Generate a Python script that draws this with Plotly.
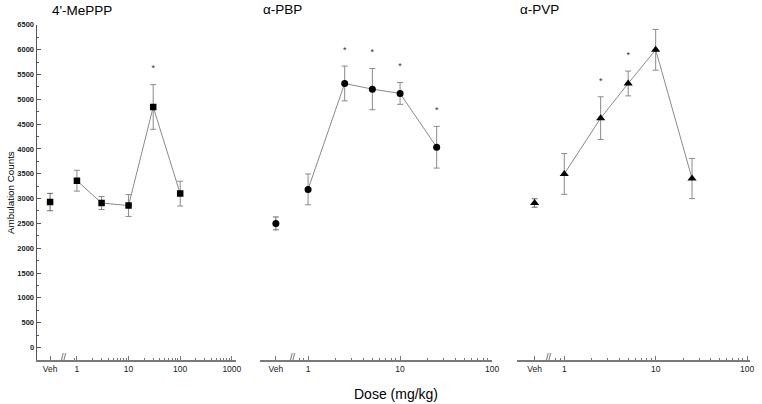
import plotly.graph_objects as go

# ---------------- data ----------------
titles = ["4'-MePPP", "α-PBP", "α-PVP"]

mep_doses = [1, 3, 10, 30, 100]
mep_mean = [3360, 2910, 2860, 4845, 3100]
mep_sem = [210, 130, 220, 450, 250]
mep_veh_mean = [2930]
mep_veh_sem = [175]
mep_sig = [False, False, False, True, False]

pbp_doses = [1, 2.5, 5, 10, 25]
pbp_mean = [3185, 5318, 5204, 5118, 4034]
pbp_sem = [310, 350, 415, 220, 420]
pbp_veh_mean = [2500]
pbp_veh_sem = [130]
pbp_sig = [False, True, True, True, True]

pvp_doses = [1, 2.5, 5, 10, 25]
pvp_mean = [3496, 4620, 5318, 5996, 3404]
pvp_sem = [410, 430, 250, 410, 405]
pvp_veh_mean = [2911]
pvp_veh_sem = [85]
pvp_sig = [False, True, True, True, False]

y_ticks = list(range(0, 7000, 500))

# ---------------- styling ----------------
W, H = 762, 404
FONT = "Arial, Liberation Sans, sans-serif"
GRAY = "#8a8a8a"
AX = "#7a7a7a"

def px(x):
    return x / W

def py(y):
    return 1 - y / H

fig = go.Figure()

panels = [
    dict(doses=mep_doses, mean=mep_mean, sem=mep_sem, vm=mep_veh_mean, vs=mep_veh_sem,
         sig=mep_sig, symbol="square", msize=6.5, veh=10 ** -0.52,
         rng=[-0.78, 3.077], dom=[px(37), px(238)]),
    dict(doses=pbp_doses, mean=pbp_mean, sem=pbp_sem, vm=pbp_veh_mean, vs=pbp_veh_sem,
         sig=pbp_sig, symbol="circle", msize=7, veh=10 ** -0.35,
         rng=[-0.527, 2.004], dom=[px(262), px(497)]),
    dict(doses=pvp_doses, mean=pvp_mean, sem=pvp_sem, vm=pvp_veh_mean, vs=pvp_veh_sem,
         sig=pvp_sig, symbol="triangle-up", msize=8, veh=10 ** -0.325,
         rng=[-0.515, 2.0325], dom=[px(522), px(757)]),
]

ydom = [py(360), py(21)]
yrange = [-260, 6500]

for i, p in enumerate(panels):
    xa = "x" if i == 0 else f"x{i+1}"
    ya = "y" if i == 0 else f"y{i+1}"
    # vehicle point
    fig.add_trace(go.Scatter(
        x=[p["veh"]], y=p["vm"], mode="markers", xaxis=xa, yaxis=ya,
        marker=dict(symbol=p["symbol"], size=p["msize"], color="black"),
        error_y=dict(type="data", array=p["vs"], color="#6a6a6a", thickness=1, width=3),
        showlegend=False, hoverinfo="skip"))
    # dose-response
    fig.add_trace(go.Scatter(
        x=p["doses"], y=p["mean"], mode="lines+markers", xaxis=xa, yaxis=ya,
        line=dict(color=GRAY, width=1),
        marker=dict(symbol=p["symbol"], size=p["msize"], color="black"),
        error_y=dict(type="data", array=p["sem"], color=GRAY, thickness=1, width=3),
        showlegend=False, hoverinfo="skip"))
    # significance stars
    sx = [d for d, s in zip(p["doses"], p["sig"]) if s]
    sy = [m + e + 310 for m, e, s in zip(p["mean"], p["sem"], p["sig"]) if s]
    fig.add_trace(go.Scatter(
        x=sx, y=sy, mode="text", text=["*"] * len(sx), xaxis=xa, yaxis=ya,
        textfont=dict(family=FONT, size=9, color="#333333"),
        textposition="middle center", showlegend=False, hoverinfo="skip"))

    lo, hi = p["rng"]
    if i == 0:
        tv = [p["veh"], 1, 10, 100, 1000]
        tt = ["Veh", "1", "10", "100", "1000"]
        minor = [0.9] + [m * 10 ** k for k in range(0, 3) for m in range(2, 10)]
    else:
        tv = [10 ** lo, p["veh"], 1, 10, 100]
        tt = ["", "Veh", "1", "10", "100"]
        minor = [0.8, 0.9] + [m * 10 ** k for k in range(0, 2) for m in range(2, 10)]
    xkey = "xaxis" if i == 0 else f"xaxis{i+1}"
    ykey = "yaxis" if i == 0 else f"yaxis{i+1}"
    fig.layout[xkey] = dict(
        type="log", range=[lo, hi], domain=p["dom"], anchor=ya,
        showline=True, linecolor=AX, linewidth=1.6, showgrid=False, zeroline=False,
        tickmode="array", tickvals=tv, ticktext=tt, ticks="inside", ticklen=5,
        tickcolor=AX, tickwidth=1,
        tickfont=dict(family=FONT, size=8.5, color="#222222"),
        minor=dict(tickvals=minor, ticks="inside", ticklen=2.5, tickcolor=AX, tickwidth=1),
    )
    if i == 0:
        fig.layout[ykey] = dict(
            range=yrange, domain=ydom, anchor=xa,
            showline=True, linecolor="#555555", linewidth=1.2, showgrid=False, zeroline=False,
            tickmode="array", tickvals=y_ticks, ticktext=[str(v) for v in y_ticks],
            ticks="inside", ticklen=4, tickcolor="#555555",
            tickfont=dict(family=FONT, size=7.5, color="#222222", weight="bold"),
            minor=dict(dtick=250, ticks="inside", ticklen=2, tickcolor="#555555"),
        )
    else:
        fig.layout[ykey] = dict(
            range=yrange, domain=ydom, anchor=xa, visible=False,
            showgrid=False, zeroline=False)

annotations = [
    dict(text=titles[0], x=px(83), y=py(7), size=13.5),
    dict(text=titles[1], x=px(285), y=py(5.5), size=13.5),
    dict(text=titles[2], x=px(545), y=py(6), size=13.5),
    dict(text="Dose (mg/kg)", x=px(400), y=py(394), size=14),
]
for a in annotations:
    fig.add_annotation(text=a["text"], x=a["x"], y=a["y"], xref="paper", yref="paper",
                       showarrow=False, xanchor="center", yanchor="middle",
                       font=dict(family=FONT, size=a["size"], color="black"))
fig.add_annotation(text="Ambulation Counts", x=px(10), y=py(190), xref="paper", yref="paper",
                   showarrow=False, textangle=-90, xanchor="center", yanchor="middle",
                   font=dict(family=FONT, size=9.8, color="black"))
for bx in [65, 296, 554]:
    fig.add_annotation(text="//", x=px(bx), y=py(357), xref="paper", yref="paper",
                       showarrow=False, xanchor="center", yanchor="middle",
                       font=dict(family=FONT, size=9, color="#444444"))

fig.update_layout(
    width=W, height=H, margin=dict(l=0, r=0, t=0, b=0),
    paper_bgcolor="white", plot_bgcolor="white",
    font=dict(family=FONT),
)

fig.write_html(
    "out.html",
    config={"displayModeBar": False},
    post_script="document.body.style.margin='0';document.body.style.overflow='hidden';",
)
